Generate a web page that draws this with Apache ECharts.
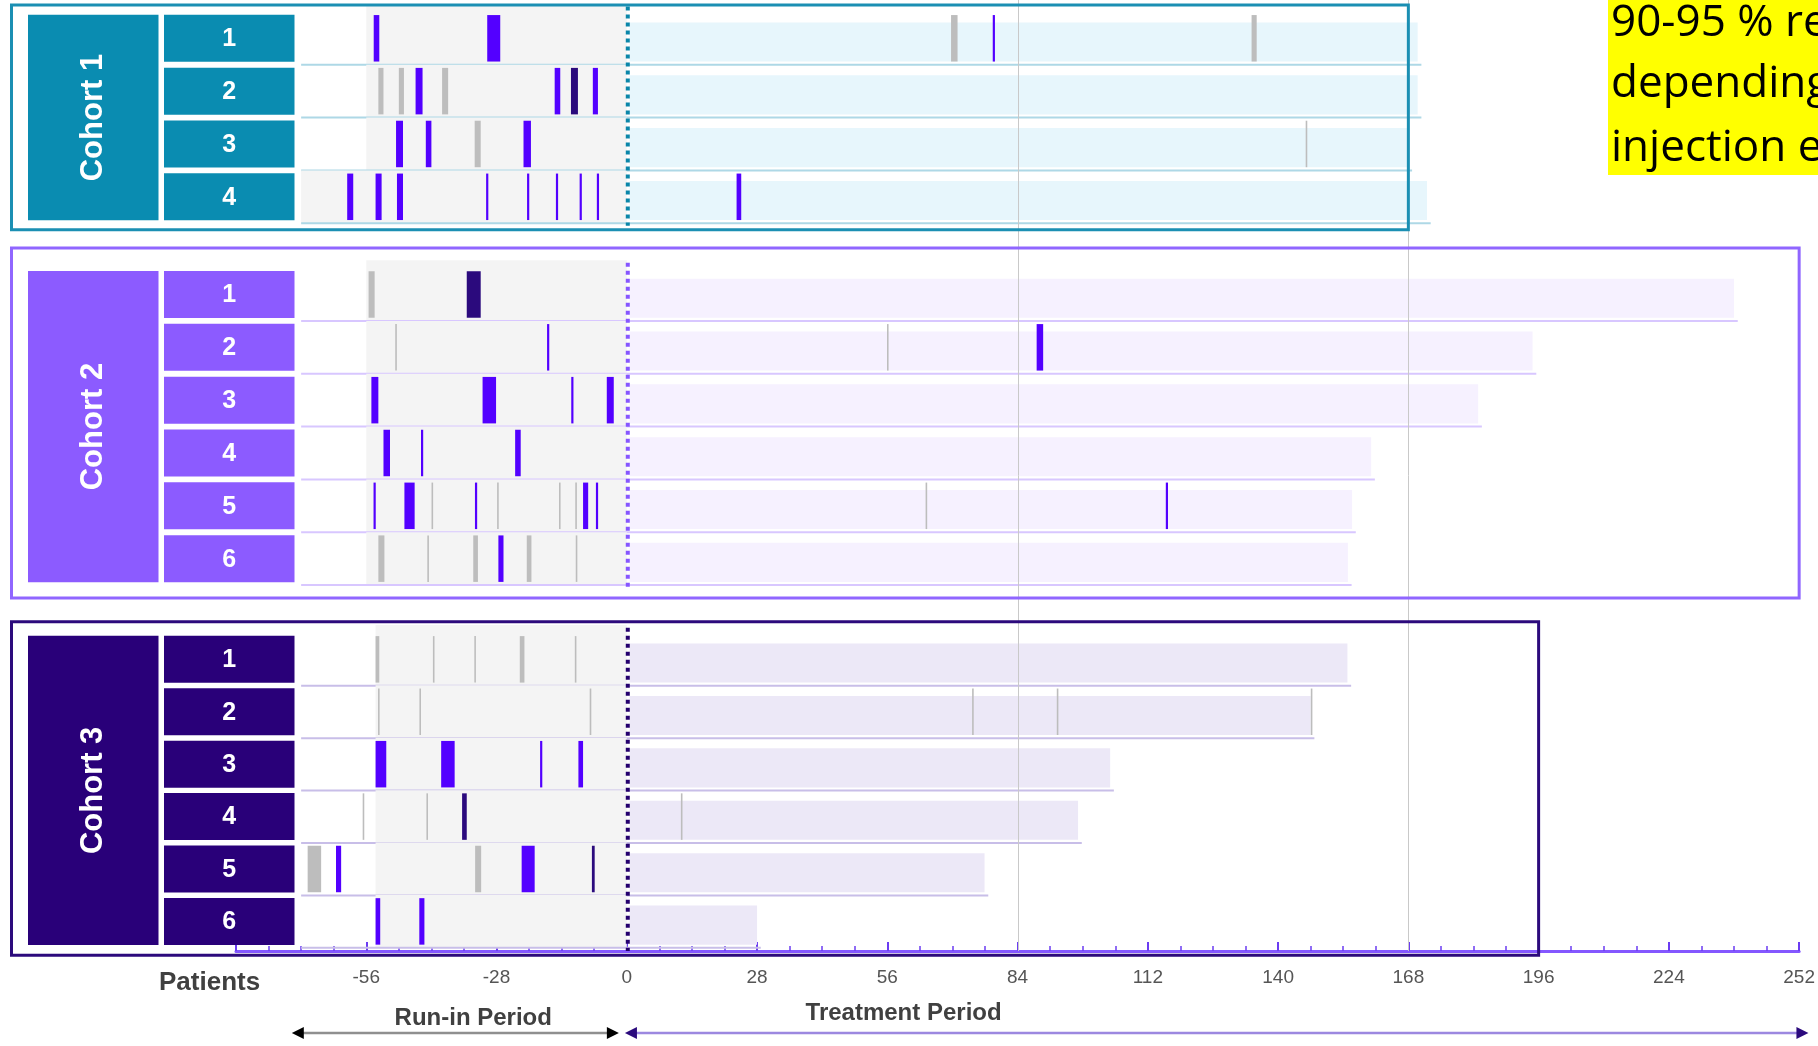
<!DOCTYPE html>
<html>
<head>
<meta charset="utf-8">
<script src="https://cdn.jsdelivr.net/npm/echarts/dist/echarts.min.js"></script>
<style>
  html, body { margin: 0; padding: 0; background: #ffffff; }
  #chart { width: 1818px; height: 1046px; }
</style>
</head>
<body>
<div id="chart"></div>
<script>
// ---- Study data -----------------------------------------------------------
const cohortNames = ['Cohort 1', 'Cohort 2', 'Cohort 3'];
const patientLabels = [['1', '2', '3', '4'], ['1', '2', '3', '4', '5', '6'], ['1', '2', '3', '4', '5', '6']];

// Study day on which each patient's run-in period starts (day 0 = first dose)
const runInStartCohort1 = [-56, -56, -56, -70];
const runInStartCohort2 = [-56, -56, -56, -56, -56, -56];
const runInStartCohort3 = [-54, -54, -54, -54, -54, -54];

// Last observed study day in the treatment period
const treatmentEndCohort1 = [170, 170, 168, 172];
const treatmentEndCohort2 = [238, 194.7, 183, 160, 155.9, 155];
const treatmentEndCohort3 = [154.9, 147, 103.9, 97, 76.9, 28];

// Events per patient: [patient index, first day, last day, kind]
// kind: 'B' bleed, 'D' bleed (treated), 'G' injury without bleed
const eventsCohort1 = [
  [0, -54.4, -53.2, 'B'], [0, -30, -27.2, 'B'], [0, 69.7, 71.1, 'G'], [0, 78.9, 78.9, 'B'], [0, 134.3, 135.4, 'G'],
  [1, -53.4, -52.3, 'G'], [1, -49, -47.9, 'G'], [1, -45.4, -43.9, 'B'], [1, -39.7, -38.4, 'G'],
  [1, -15.5, -14.3, 'B'], [1, -12, -10.5, 'D'], [1, -7.3, -6.2, 'B'],
  [2, -49.6, -48.1, 'B'], [2, -43.2, -42, 'B'], [2, -32.7, -31.4, 'G'], [2, -22.2, -20.6, 'B'], [2, 146.1, 146.1, 'G'],
  [3, -60.1, -58.8, 'B'], [3, -54, -52.7, 'B'], [3, -49.4, -48.1, 'B'], [3, -30, -30, 'B'], [3, -21.2, -21.2, 'B'],
  [3, -15, -15, 'B'], [3, -9.9, -9.9, 'B'], [3, -6.2, -6.2, 'B'], [3, 23.6, 24.6, 'B']
];
const eventsCohort2 = [
  [0, -55.5, -54.2, 'G'], [0, -34.4, -31.4, 'D'],
  [1, -49.6, -49.6, 'G'], [1, -16.9, -16.9, 'B'], [1, 56.1, 56.1, 'G'], [1, 88.1, 89.5, 'B'],
  [2, -54.9, -53.4, 'B'], [2, -31, -28.1, 'B'], [2, -11.7, -11.7, 'B'], [2, -4.3, -2.8, 'B'],
  [3, -52.3, -50.9, 'B'], [3, -44, -44, 'B'], [3, -24, -22.8, 'B'],
  [4, -54.2, -54.2, 'B'], [4, -47.8, -45.6, 'B'], [4, -41.8, -41.8, 'G'], [4, -32.4, -32.4, 'B'], [4, -27.7, -27.7, 'G'],
  [4, -14.4, -14.4, 'G'], [4, -10.9, -10.9, 'G'], [4, -9.4, -8.3, 'B'], [4, -6.4, -6.4, 'B'], [4, 64.4, 64.4, 'G'], [4, 116.1, 116.1, 'B'],
  [5, -53.4, -52.1, 'G'], [5, -42.7, -42.7, 'G'], [5, -33, -32, 'G'], [5, -27.6, -26.5, 'B'], [5, -21.5, -20.5, 'G'], [5, -10.8, -10.8, 'G']
];
const eventsCohort3 = [
  [0, -54, -53.2, 'G'], [0, -41.5, -41.5, 'G'], [0, -32.6, -32.6, 'G'], [0, -23, -22, 'G'], [0, -11, -11, 'G'],
  [1, -53.3, -53.3, 'G'], [1, -44.4, -44.4, 'G'], [1, -7.8, -7.8, 'G'], [1, 74.4, 74.4, 'G'], [1, 92.6, 92.6, 'G'], [1, 147.2, 147.2, 'G'],
  [2, -54, -51.7, 'B'], [2, -39.9, -37, 'B'], [2, -18.4, -18.4, 'B'], [2, -10.4, -9.4, 'B'],
  [3, -56.6, -56.6, 'G'], [3, -42.9, -42.9, 'G'], [3, -35.4, -34.4, 'D'], [3, 11.8, 11.8, 'G'],
  [4, -68.6, -65.7, 'G'], [4, -62.5, -61.4, 'B'], [4, -32.6, -31.3, 'G'], [4, -22.6, -19.8, 'B'], [4, -7.5, -6.9, 'D'],
  [5, -54, -53, 'B'], [5, -44.6, -43.5, 'B']
];

// Axis
const dayMin = -84, dayMax = 252, dayStep = 28;
const periodNames = ['Run-in Period', 'Treatment Period'];
const noteLines = ['90-95 % re', 'depending', 'injection e'];

// ---- Layout and styles ----------------------------------------------------
const layout = {
  firstRowY: [0.725, 5.574, 12.48],   // y (row units) of each cohort's first row
  rowPitch: [1, 1, 0.992],
  framePadTop: [0.63, 0.88, 0.71],
  framePadBottom: [0.625, 0.745, 0.64],
  frameEndDay: [168, 252, 196],
  frameLeft: 11.5,
  cohortBoxX: 28,
  rowBoxX: 164,
  boxW: 130.5,
  baselineStartDay: -70,
  guideDays: [84, 168],
  periodSpan: [[-72, -1.7], [-0.4, 254]],
  periodLabelDay: [-33, 59.5]
};
const palette = [
  { box: '#0a8cb1', frame: '#1b8fb3', dotted: '#0a86a9', band: '#e7f6fc', baseline: '#aed8e6' },
  { box: '#8c5bff', frame: '#9066ff', dotted: '#8656ff', band: '#f6f1ff', baseline: '#d8c7ff' },
  { box: '#290079', frame: '#2c0a7c', dotted: '#24006e', band: '#ece8f7', baseline: '#c8bee8' }
];
const eventStyle = {
  B: { color: '#5300ff', thin: 2.2 },
  D: { color: '#2b0a7d', thin: 2.6 },
  G: { color: '#bdbdbd', thin: 1.6 }
};
const runInFill = '#f4f4f4';
const labelFont = '"Liberation Sans", Arial, sans-serif';

// ---- Build row / event tables from the arrays above ------------------------
const runInStart = [runInStartCohort1, runInStartCohort2, runInStartCohort3];
const treatmentEnd = [treatmentEndCohort1, treatmentEndCohort2, treatmentEndCohort3];
const eventLists = [eventsCohort1, eventsCohort2, eventsCohort3];

function rowCenter(c, p) { return layout.firstRowY[c] + p * layout.rowPitch[c]; }

const rows = [];
runInStart.forEach((list, c) => list.forEach((s, p) => {
  rows.push({ c: c, p: p, start: s, end: treatmentEnd[c][p] });
}));
const events = [];
eventLists.forEach((list, c) => list.forEach(e => {
  events.push({ c: c, p: e[0], s: e[1], e: e[2], k: e[3] });
}));

// ---- Render helpers ---------------------------------------------------------
function renderRow(params, api) {
  const r = rows[params.dataIndex];
  const pal = palette[r.c];
  const yc = rowCenter(r.c, r.p);
  const top = r.p === 0 ? yc - 0.65 : yc - 0.5;
  const g0 = api.coord([r.start, top]);
  const g1 = api.coord([0, yc + 0.5]);
  const t0 = api.coord([0.6, yc - 0.3]);
  const t1 = api.coord([r.end, yc + 0.44]);
  const b0 = api.coord([layout.baselineStartDay, yc + 0.5]);
  const b1 = api.coord([r.end + 0.8, yc + 0.5]);
  return {
    type: 'group',
    children: [
      { type: 'rect', shape: { x: g0[0], y: g0[1], width: g1[0] - g0[0], height: g1[1] - g0[1] }, style: { fill: runInFill } },
      { type: 'rect', shape: { x: t0[0], y: t0[1], width: t1[0] - t0[0], height: t1[1] - t0[1] }, style: { fill: pal.band } },
      { type: 'line', shape: { x1: b0[0], y1: b0[1], x2: b1[0], y2: b1[1] }, style: { stroke: pal.baseline, lineWidth: 2 } }
    ]
  };
}

function renderGuide(params, api) {
  const d = layout.guideDays[params.dataIndex];
  const a = api.coord([d, 0]);
  const b = api.coord([d, 18]);
  return { type: 'line', shape: { x1: Math.round(a[0]) + 0.5, y1: a[1], x2: Math.round(b[0]) + 0.5, y2: b[1] }, style: { stroke: '#c9c9c9', lineWidth: 1 } };
}

function renderEvent(params, api) {
  const ev = events[params.dataIndex];
  const st = eventStyle[ev.k];
  const yc = rowCenter(ev.c, ev.p);
  const a = api.coord([ev.s, yc - 0.44]);
  const b = api.coord([ev.e, yc + 0.44]);
  if (ev.e > ev.s) {
    return { type: 'rect', shape: { x: a[0], y: a[1], width: Math.max(b[0] - a[0], 2), height: b[1] - a[1] }, style: { fill: st.color } };
  }
  return { type: 'line', shape: { x1: a[0], y1: a[1], x2: a[0], y2: b[1] }, style: { stroke: st.color, lineWidth: st.thin } };
}

function renderCohort(params, api) {
  const c = params.dataIndex;
  const pal = palette[c];
  const n = patientLabels[c].length;
  const yFirst = rowCenter(c, 0), yLast = rowCenter(c, n - 1);
  const top = api.coord([0, yFirst - layout.framePadTop[c]])[1];
  const bottom = api.coord([0, yLast + layout.framePadBottom[c]])[1];
  const right = api.coord([layout.frameEndDay[c], 0])[0];
  const children = [];
  // dotted line at the first dose
  const d0 = api.coord([0, yFirst - 0.6]);
  const d1 = api.coord([0, c === 2 ? 18 : yLast + 0.55]);
  children.push({ type: 'line', shape: { x1: d0[0] + 1, y1: d0[1], x2: d1[0] + 1, y2: d1[1] }, style: { stroke: pal.dotted, lineWidth: 4, lineDash: [4, 4] } });
  // cohort frame
  children.push({ type: 'rect', shape: { x: layout.frameLeft, y: top, width: right - layout.frameLeft, height: bottom - top }, style: { fill: null, stroke: pal.frame, lineWidth: 3 } });
  // cohort label box
  const bt = api.coord([0, yFirst - 0.445])[1];
  const bb = api.coord([0, yLast + 0.445])[1];
  children.push({ type: 'rect', shape: { x: layout.cohortBoxX, y: bt, width: layout.boxW, height: bb - bt }, style: { fill: pal.box } });
  children.push({
    type: 'text', x: layout.cohortBoxX + layout.boxW / 2, y: (bt + bb) / 2, rotation: Math.PI / 2,
    style: { text: cohortNames[c], fill: '#ffffff', font: 'bold 31px ' + labelFont, align: 'center', verticalAlign: 'middle' }
  });
  // patient boxes
  for (let p = 0; p < n; p++) {
    const yc = rowCenter(c, p);
    const rt = api.coord([0, yc - 0.445])[1];
    const rb = api.coord([0, yc + 0.445])[1];
    children.push({ type: 'rect', shape: { x: layout.rowBoxX, y: rt, width: layout.boxW, height: rb - rt }, style: { fill: pal.box } });
    children.push({
      type: 'text', x: layout.rowBoxX + layout.boxW / 2, y: (rt + rb) / 2 + 1,
      style: { text: patientLabels[c][p], fill: '#ffffff', font: 'bold 25px ' + labelFont, align: 'center', verticalAlign: 'middle' }
    });
  }
  return { type: 'group', children: children };
}

function arrowHead(x, y, dir, color) {
  const len = 12, half = 6;
  return { type: 'polygon', shape: { points: [[x, y], [x - dir * len, y - half], [x - dir * len, y + half]] }, style: { fill: color } };
}

function renderPeriod(params, api) {
  const i = params.dataIndex;
  const span = layout.periodSpan[i];
  const a = api.coord([span[0], 19.55]);
  const b = api.coord([span[1], 19.55]);
  const lineColor = i === 0 ? '#8f8f8f' : '#9c88e0';
  const headColor = i === 0 ? '#000000' : '#2b0a7d';
  const lab = api.coord([layout.periodLabelDay[i], i === 0 ? 19.27 : 19.18]);
  return {
    type: 'group',
    children: [
      { type: 'line', shape: { x1: a[0] + 8, y1: a[1], x2: b[0] - 8, y2: b[1] }, style: { stroke: lineColor, lineWidth: 2.5 } },
      arrowHead(a[0], a[1], -1, headColor),
      arrowHead(b[0], b[1], 1, headColor),
      { type: 'text', x: lab[0], y: lab[1], style: { text: periodNames[i], fill: '#404040', font: 'bold 24px ' + labelFont, align: 'center', verticalAlign: 'middle' } }
    ]
  };
}

// ---- Chart ------------------------------------------------------------------
const chart = echarts.init(document.getElementById('chart'), null, { renderer: 'canvas' });
chart.setOption({
  animation: false,
  backgroundColor: '#ffffff',
  grid: { left: 236, right: 14, top: 0, bottom: 95, containLabel: false },
  xAxis: {
    type: 'value', min: dayMin, max: dayMax, interval: dayStep,
    axisLine: { show: true, onZero: false, lineStyle: { color: '#8457ff', width: 3 } },
    axisTick: { show: true, inside: true, length: 9, lineStyle: { color: '#6b3cf2', width: 2 } },
    minorTick: { show: true, splitNumber: 4, length: 5, lineStyle: { color: '#6b3cf2', width: 1.5 } },
    splitLine: { show: false },
    axisLabel: {
      margin: 17, color: '#555555', fontSize: 19, fontFamily: labelFont,
      alignMaxLabel: 'center', alignMinLabel: 'center', hideOverlap: false,
      formatter: v => (v === dayMin ? '' : String(v))
    }
  },
  yAxis: { type: 'value', min: 0, max: 18, inverse: true, show: false },
  graphic: [
    { type: 'text', left: 159, top: 970, z: 10, style: { text: 'Patients', fill: '#404040', font: 'bold 26px ' + labelFont } },
    { type: 'rect', shape: { x: 1608, y: 0, width: 210, height: 175 }, style: { fill: '#ffff00' }, z: 10 },
    { type: 'text', x: 1611, y: 23, z: 11, style: { text: noteLines[0], fill: '#000000', font: '44px "Open Sans", sans-serif', verticalAlign: 'middle' } },
    { type: 'text', x: 1611, y: 84, z: 11, style: { text: noteLines[1], fill: '#000000', font: '44px "Open Sans", sans-serif', verticalAlign: 'middle' } },
    { type: 'text', x: 1611, y: 148, z: 11, style: { text: noteLines[2], fill: '#000000', font: '44px "Open Sans", sans-serif', verticalAlign: 'middle' } }
  ],
  series: [
    { type: 'custom', name: 'rows', z: 1, silent: true, clip: false, renderItem: renderRow, data: rows.map(r => [r.start, rowCenter(r.c, r.p)]) },
    { type: 'custom', name: 'guides', z: 2, silent: true, clip: false, renderItem: renderGuide, data: layout.guideDays.map(d => [d, 0]) },
    { type: 'custom', name: 'events', z: 3, silent: true, clip: false, renderItem: renderEvent, data: events.map(e => [e.s, rowCenter(e.c, e.p)]) },
    { type: 'custom', name: 'cohorts', z: 4, silent: true, clip: false, renderItem: renderCohort, data: cohortNames.map((n, i) => [0, layout.firstRowY[i]]) },
    { type: 'custom', name: 'periods', z: 5, silent: true, clip: false, renderItem: renderPeriod, data: periodNames.map((n, i) => [layout.periodSpan[i][0], 19.5]) }
  ]
});
</script>
</body>
</html>
